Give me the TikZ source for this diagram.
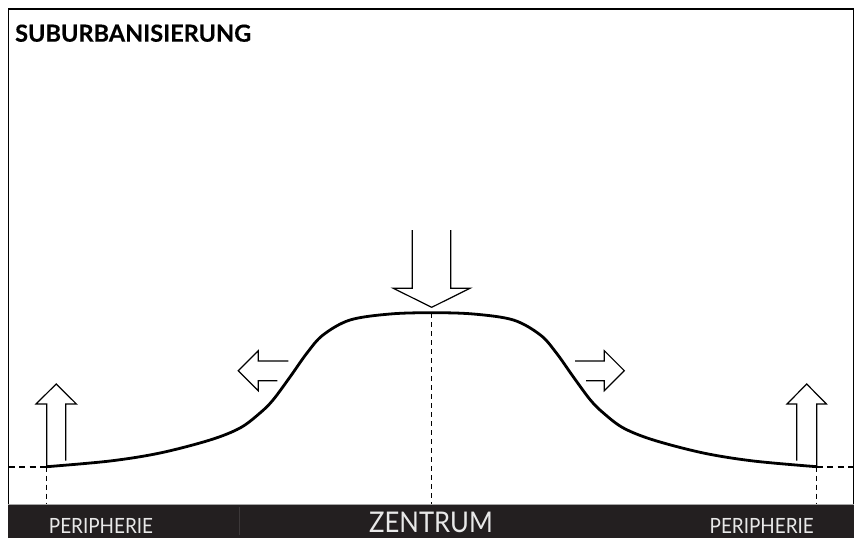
\documentclass[tikz,border=0pt]{standalone}
\usepackage{fontspec}
\newfontfamily\titlefont[FakeBold=0.4]{Lato}
\newfontfamily\barfont[FakeStretch=0.9]{Lato}
\definecolor{bardark}{HTML}{231F20}
\definecolor{bartext}{HTML}{E8E8E8}
\definecolor{divider}{HTML}{3C3839}
\begin{document}
\begin{tikzpicture}[x=1pt,y=-1pt,
  openarrow/.style={line width=1.2pt, line join=miter},
  guide/.style={line width=1.8pt, dash pattern=on 6pt off 4.5pt},
  vguide/.style={line width=1.1pt, dash pattern=on 5pt off 4pt},
  barlabel/.style={text=bartext, inner sep=0pt, font=\barfont\fontsize{21}{21}\selectfont},
]
\useasboundingbox (0,0) rectangle (861,538);
% frame
\draw[line width=1.6pt] (8.5,538) -- (8.5,9) -- (853.5,9) -- (853.5,538);
% bar
\fill[bardark] (7.7,504) rectangle (854.3,538);
\draw[gray!70, line width=0.8pt] (7.7,504) -- (854.3,504);
\draw[divider, line width=1pt] (239,507) -- (239,535);
% title
\node[anchor=base west, inner sep=0pt, font=\titlefont\bfseries\fontsize{23.5}{23.5}\selectfont] (title) at (15,41.7) {SUBURBANISIERUNG};
% bar labels
\node[barlabel, anchor=base] (pl) at (101,533) {PERIPHERIE};
\node[barlabel, anchor=base] (pr) at (761.7,533) {PERIPHERIE};
\node[barlabel, anchor=base, font=\barfont\fontsize{28.5}{28.5}\selectfont] (zen) at (431,532.5) {ZENTRUM};
% guides
\draw[guide] (8.5,466.7) -- (46.7,466.7);
\draw[guide] (816.7,466.7) -- (853.5,466.7);
\draw[vguide] (46.7,466.7) -- (46.7,504);
\draw[vguide] (816.7,466.7) -- (816.7,504);
\draw[vguide] (431.7,313) -- (431.7,504);
% curve
\draw[line width=2.8pt, line cap=round] plot[smooth, tension=0.55] coordinates {
 (46.7,466.7) (110,461) (160,453) (210,440) (240,428) (260,413) (273,400) (290,377) (307,353) (323,335) (350,320) (390,314) (431.7,312.7)
 (473.4,314) (513.4,320) (540.4,335) (556.4,353) (573.4,377) (590.4,400) (603.4,413) (623.4,428) (653.4,440) (703.4,453) (753.4,461) (816.7,466.7)};
% arrows
\draw[openarrow] (288.3,361) -- (258.3,361) -- (258.3,350.7) -- (238.3,370.7) -- (258.3,390.7) -- (258.3,380.7) -- (277.3,380.7);
\draw[openarrow] (575,361) -- (604.3,361) -- (604.3,350.7) -- (624.3,370.7) -- (604.3,390.7) -- (604.3,380.7) -- (586,380.7);
\draw[openarrow] (412.3,230) -- (412.3,288.3) -- (393.3,288.3) -- (431.7,307.3) -- (470,288.3) -- (450.7,288.3) -- (450.7,230);
\draw[openarrow] (46.7,466.7) -- (46.7,404) -- (36,404) -- (56.2,384) -- (76.4,404) -- (65.7,404) -- (65.7,460.7);
\draw[openarrow] (796.7,460.7) -- (796.7,404) -- (787,404) -- (806.7,384) -- (826.4,404) -- (816.7,404) -- (816.7,466.7);
\end{tikzpicture}
\end{document}
